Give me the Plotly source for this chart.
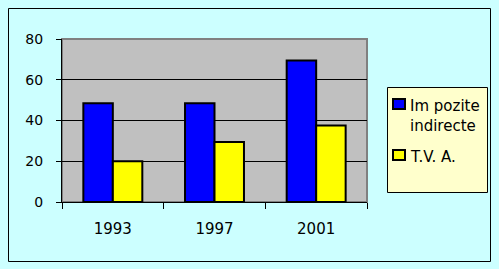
import plotly.graph_objects as go

years = ["1993", "1997", "2001"]
impozite = [48.5, 48.5, 69.5]
tva = [20, 29.5, 37.5]
series_names = ["Im pozite<br>indirecte", "T.V. A."]
series_colors = ["#0000FF", "#FFFF00"]
y_ticks = [0, 20, 40, 60, 80]

W, H = 499, 269
L, R, T, B = 62, 367, 39, 202

def px(x):
    return (x - L) / (R - L)

def py(y):
    return (B - y) / (B - T)

fig = go.Figure()
for vals, name, col in zip([impozite, tva], series_names, series_colors):
    fig.add_trace(go.Bar(x=years, y=vals, name=name,
                         marker=dict(color=col, line=dict(color="black", width=2))))

font = "DejaVu Sans, Verdana, sans-serif"

shapes = [
    dict(type="rect", xref="paper", yref="paper", x0=0, x1=1, y0=0, y1=1,
         line=dict(color="#808080", width=2), layer="below"),
    dict(type="rect", xref="paper", yref="paper",
         x0=px(8.5), x1=px(490.5), y0=py(8.5), y1=py(261.5),
         line=dict(color="black", width=1), layer="above"),
    dict(type="rect", xref="paper", yref="paper",
         x0=px(387.5), x1=px(487.5), y0=py(87.5), y1=py(192.5),
         fillcolor="#FFFFCC", line=dict(color="black", width=1), layer="below"),
]
annotations = []
# legend entries (top y of each entry in pixels)
entry_tops = [98, 149]
for top, name, col in zip(entry_tops, series_names, series_colors):
    shapes.append(dict(type="rect", xref="paper", yref="paper",
                       x0=px(393), x1=px(405), y0=py(top + 1), y1=py(top + 11),
                       fillcolor=col, line=dict(color="black", width=2), layer="above"))
    annotations.append(dict(text=name, xref="paper", yref="paper",
                            x=px(408), y=py(top - 3), xanchor="left", yanchor="top",
                            align="left", showarrow=False,
                            font=dict(family=font, size=15, color="black")))

fig.update_layout(
    width=W, height=H,
    margin=dict(l=L, r=W - R, t=T, b=H - B, pad=0, autoexpand=False),
    paper_bgcolor="#CCFFFF",
    plot_bgcolor="#C0C0C0",
    barmode="group", bargap=0.42, bargroupgap=0,
    font=dict(family=font, size=15, color="black"),
    showlegend=False,
    xaxis=dict(showline=True, linecolor="black", linewidth=1,
               ticks="outside", tickson="boundaries", ticklen=6, tickcolor="black",
               ticklabelstandoff=13, showgrid=False, fixedrange=True,
               tickfont=dict(size=15)),
    yaxis=dict(range=[0, 80], tickvals=y_ticks, showline=True, linecolor="black",
               linewidth=1, ticks="outside", ticklen=5, tickcolor="black",
               ticklabelstandoff=10, tickfont=dict(size=14),
               showgrid=True, gridcolor="black", gridwidth=1, zeroline=False,
               fixedrange=True),
    shapes=shapes,
    annotations=annotations,
)

fig.write_html("out.html")
